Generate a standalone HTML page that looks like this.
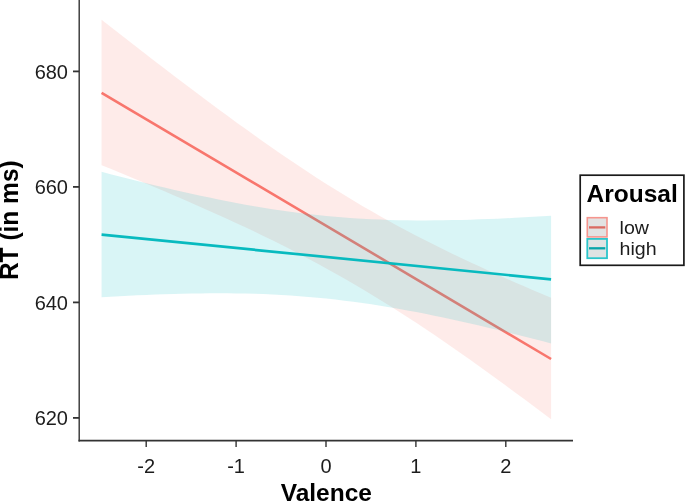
<!DOCTYPE html>
<html><head><meta charset="utf-8"><title>Valence x Arousal</title>
<style>
html,body{margin:0;padding:0;background:#fff;}
body{width:685px;height:502px;overflow:hidden;}
svg{display:block;}
text{font-family:"Liberation Sans",Arial,Helvetica,sans-serif;fill:#1a1a1a;}
.tk{font-size:20px;fill:#1c1c1c;}
.ti{font-size:24.5px;font-weight:bold;fill:#000;}
</style></head><body>
<svg width="685" height="502" viewBox="0 0 685 502">
<rect width="685" height="502" fill="#fff"/>
<path d="M101.58,19.70 L110.57,26.75 L119.56,33.79 L128.55,40.80 L137.54,47.78 L146.53,54.74 L155.52,61.68 L164.51,68.58 L173.50,75.45 L182.49,82.28 L191.48,89.08 L200.47,95.84 L209.46,102.55 L218.45,109.21 L227.44,115.82 L236.43,122.38 L245.42,128.87 L254.41,135.31 L263.40,141.67 L272.39,147.96 L281.38,154.17 L290.37,160.30 L299.36,166.35 L308.35,172.30 L317.34,178.15 L326.33,183.91 L335.32,189.56 L344.31,195.11 L353.30,200.55 L362.29,205.89 L371.28,211.11 L380.27,216.23 L389.26,221.25 L398.25,226.16 L407.24,230.97 L416.23,235.69 L425.22,240.31 L434.21,244.85 L443.20,249.30 L452.19,253.67 L461.18,257.97 L470.17,262.20 L479.16,266.36 L488.15,270.47 L497.14,274.52 L506.13,278.51 L515.12,282.46 L524.11,286.36 L533.10,290.22 L542.09,294.04 L551.08,297.82 L551.08,419.35 L542.09,412.56 L533.10,405.81 L524.11,399.09 L515.12,392.42 L506.13,385.80 L497.14,379.22 L488.15,372.69 L479.16,366.22 L470.17,359.81 L461.18,353.47 L452.19,347.19 L443.20,340.98 L434.21,334.85 L425.22,328.80 L416.23,322.84 L407.24,316.96 L398.25,311.17 L389.26,305.48 L380.27,299.89 L371.28,294.39 L362.29,289.00 L353.30,283.70 L344.31,278.51 L335.32,273.42 L326.33,268.42 L317.34,263.52 L308.35,258.71 L299.36,254.00 L290.37,249.37 L281.38,244.82 L272.39,240.35 L263.40,235.95 L254.41,231.62 L245.42,227.36 L236.43,223.16 L227.44,219.01 L218.45,214.92 L209.46,210.88 L200.47,206.89 L191.48,202.93 L182.49,199.02 L173.50,195.15 L164.51,191.31 L155.52,187.50 L146.53,183.72 L137.54,179.97 L128.55,176.25 L119.56,172.55 L110.57,168.87 L101.58,165.21Z" fill="#F8766D" fill-opacity="0.15"/>
<line x1="101.58" y1="92.8" x2="551.08" y2="359.0" stroke="#F8766D" stroke-width="2.6"/>
<path d="M101.58,171.80 L110.57,174.14 L119.56,176.45 L128.55,178.74 L137.54,180.99 L146.53,183.21 L155.52,185.40 L164.51,187.54 L173.50,189.65 L182.49,191.71 L191.48,193.72 L200.47,195.69 L209.46,197.60 L218.45,199.45 L227.44,201.24 L236.43,202.97 L245.42,204.63 L254.41,206.22 L263.40,207.73 L272.39,209.16 L281.38,210.51 L290.37,211.78 L299.36,212.96 L308.35,214.05 L317.34,215.06 L326.33,215.97 L335.32,216.79 L344.31,217.53 L353.30,218.17 L362.29,218.73 L371.28,219.20 L380.27,219.59 L389.26,219.90 L398.25,220.13 L407.24,220.29 L416.23,220.38 L425.22,220.40 L434.21,220.36 L443.20,220.27 L452.19,220.11 L461.18,219.91 L470.17,219.66 L479.16,219.36 L488.15,219.02 L497.14,218.64 L506.13,218.22 L515.12,217.77 L524.11,217.29 L533.10,216.77 L542.09,216.23 L551.08,215.67 L551.08,343.38 L542.09,341.05 L533.10,338.74 L524.11,336.46 L515.12,334.21 L506.13,331.99 L497.14,329.80 L488.15,327.65 L479.16,325.54 L470.17,323.47 L461.18,321.45 L452.19,319.47 L443.20,317.55 L434.21,315.67 L425.22,313.86 L416.23,312.10 L407.24,310.41 L398.25,308.79 L389.26,307.23 L380.27,305.76 L371.28,304.35 L362.29,303.03 L353.30,301.79 L344.31,300.64 L335.32,299.57 L326.33,298.59 L317.34,297.69 L308.35,296.88 L299.36,296.16 L290.37,295.53 L281.38,294.98 L272.39,294.51 L263.40,294.12 L254.41,293.81 L245.42,293.57 L236.43,293.41 L227.44,293.31 L218.45,293.27 L209.46,293.30 L200.47,293.38 L191.48,293.52 L182.49,293.70 L173.50,293.94 L164.51,294.22 L155.52,294.54 L146.53,294.90 L137.54,295.29 L128.55,295.72 L119.56,296.19 L110.57,296.68 L101.58,297.19Z" fill="#00BFC4" fill-opacity="0.15"/>
<line x1="101.58" y1="234.6" x2="551.08" y2="279.35" stroke="#08BABF" stroke-width="2.7"/>
<g stroke="#333" stroke-width="1.4" fill="none">
<line x1="79.2" y1="-2" x2="79.2" y2="441.55"/>
<line x1="146.20" y1="440.65" x2="146.20" y2="446.9"/>
<line x1="236.10" y1="440.65" x2="236.10" y2="446.9"/>
<line x1="326.00" y1="440.65" x2="326.00" y2="446.9"/>
<line x1="415.90" y1="440.65" x2="415.90" y2="446.9"/>
<line x1="505.80" y1="440.65" x2="505.80" y2="446.9"/>
</g>
<g stroke="#333" stroke-width="1.8" fill="none">
<line x1="78.5" y1="440.65" x2="573" y2="440.65"/>
<line x1="73" y1="71.4" x2="79.2" y2="71.4"/>
<line x1="73" y1="186.9" x2="79.2" y2="186.9"/>
<line x1="73" y1="302.4" x2="79.2" y2="302.4"/>
<line x1="73" y1="417.9" x2="79.2" y2="417.9"/>
</g>
<text class="tk" x="68" y="78.6" text-anchor="end">680</text>
<text class="tk" x="68" y="194.1" text-anchor="end">660</text>
<text class="tk" x="68" y="309.6" text-anchor="end">640</text>
<text class="tk" x="68" y="425.1" text-anchor="end">620</text>
<text class="tk" x="146.20" y="472.9" text-anchor="middle">-2</text>
<text class="tk" x="236.10" y="472.9" text-anchor="middle">-1</text>
<text class="tk" x="326.00" y="472.9" text-anchor="middle">0</text>
<text class="tk" x="415.90" y="472.9" text-anchor="middle">1</text>
<text class="tk" x="505.80" y="472.9" text-anchor="middle">2</text>
<text class="ti" x="326.3" y="501.1" text-anchor="middle">Valence</text>
<text class="ti" transform="translate(18,220.2) scale(1.035,1) rotate(-90)" text-anchor="middle">RT (in ms)</text>
<rect x="580.2" y="175.2" width="103.7" height="90.1" fill="#fff" stroke="#1a1a1a" stroke-width="1.7"/>
<text class="ti" x="586.5" y="202.1">Arousal</text>
<rect x="587.3" y="217.7" width="19.7" height="19.2" fill="#E2E2E2" stroke="#F6958E" stroke-width="1.6"/>
<line x1="589" y1="227.4" x2="605.3" y2="227.4" stroke="#DA6A62" stroke-width="2.3"/>
<rect x="587.3" y="238.9" width="19.7" height="19.3" fill="#E0E3E3" stroke="#2CC5CA" stroke-width="1.8"/>
<line x1="589" y1="248.3" x2="605.3" y2="248.3" stroke="#06A4A9" stroke-width="2.3"/>
<text class="tk" style="font-size:18.7px" transform="translate(619.6,233.8) scale(1.05,1)">low</text>
<text class="tk" style="font-size:18.7px" transform="translate(619.6,255.2) scale(1.05,1)">high</text>
</svg></body></html>
